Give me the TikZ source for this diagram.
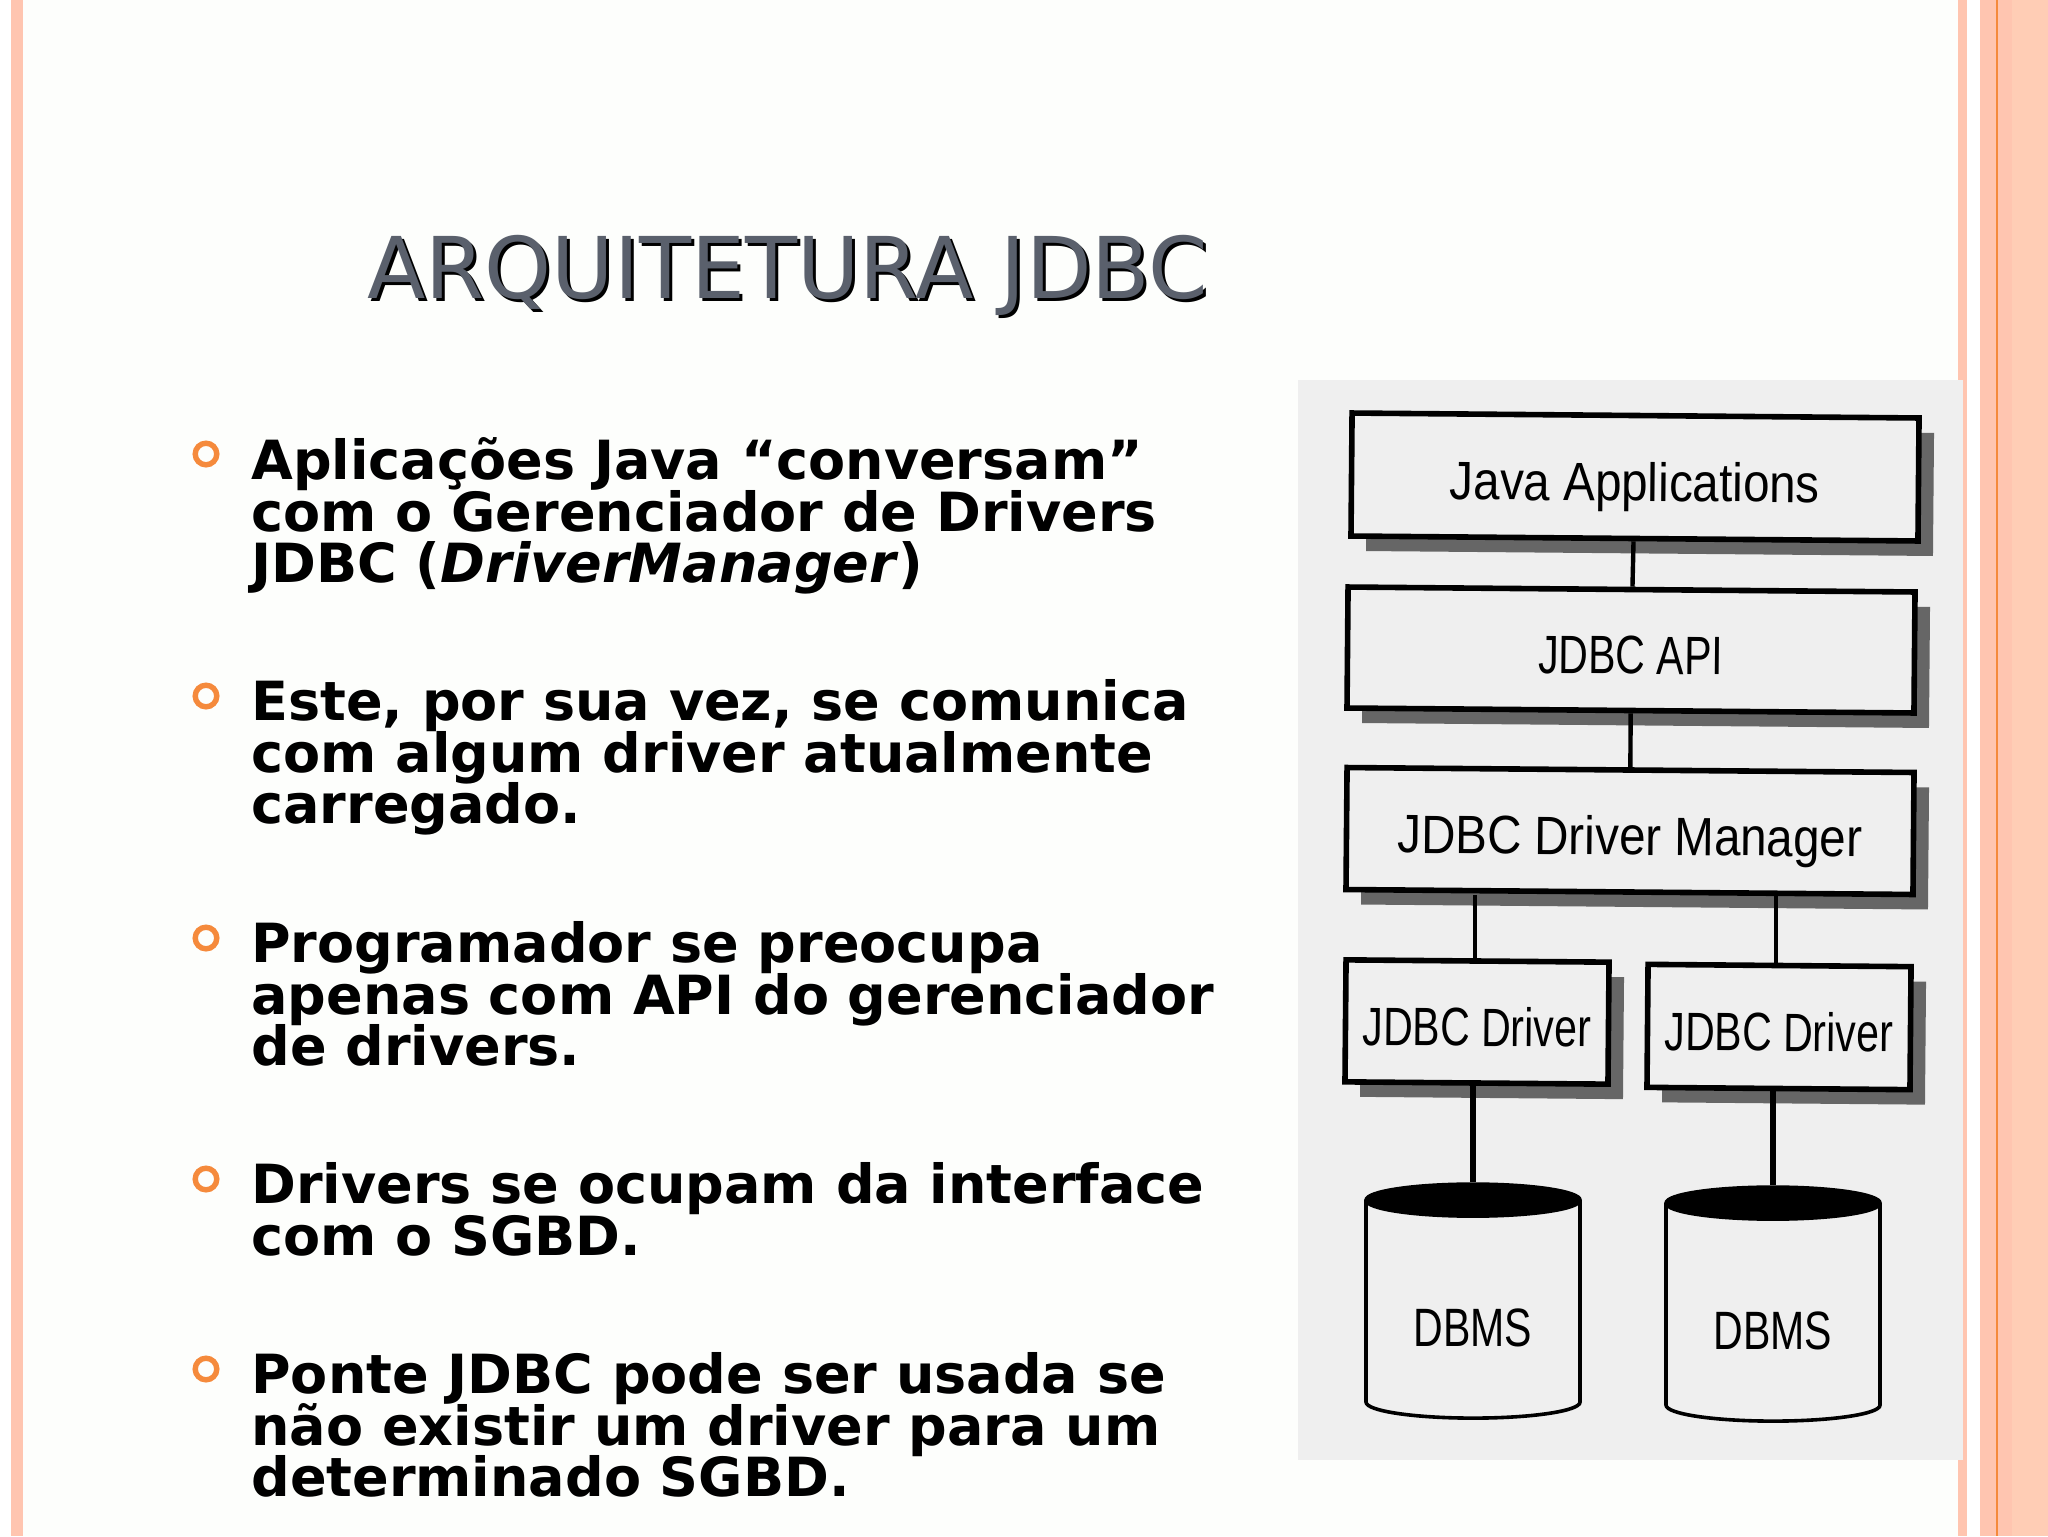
\documentclass[tikz,border=0pt]{standalone}
\usepackage{fontspec}
\usetikzlibrary{shapes.geometric,shadows}
\setmainfont{DejaVu Sans}
\newfontfamily\scanfont[FakeStretch=0.88]{Liberation Sans}
\newfontfamily\scanfontnarrow[FakeStretch=0.76]{Liberation Sans}
\definecolor{pagewhite}{HTML}{FDFEFC}
\definecolor{peach}{HTML}{FFC5B0}
\definecolor{peachlight}{HTML}{FFCDB5}
\definecolor{ringorange}{HTML}{F58A3C}
\definecolor{titlegray}{HTML}{5A606C}
\definecolor{scangray}{HTML}{EFEFEF}
\definecolor{shadowgray}{HTML}{666666}
\tikzset{
  ring/.style={circle, draw=ringorange, line width=2.7pt, minimum size=10.8pt, inner sep=0pt},
  bullettext/.style={anchor=north west, inner sep=0pt, align=left,
    execute at begin node={\lineskiplimit=-20pt},
    font=\fontsize{27}{25.85}\selectfont\bfseries},
  block/.style={draw=black, line width=2.8pt, fill=scangray, rotate=-0.5, inner sep=0pt,
    text height=24pt, text depth=0pt, font=\fontsize{27}{27}\selectfont\scanfont,
    drop shadow={shadow xshift=7.5pt, shadow yshift=-7.5pt, fill=shadowgray, opacity=1}},
  dbms/.style={cylinder, shape border rotate=90, draw=black, line width=1.8pt, aspect=0.27,
    cylinder uses custom fill, cylinder end fill=black, cylinder body fill=scangray,
    minimum width=107pt, minimum height=117pt, inner sep=0pt,
    text height=36pt, text depth=0pt, font=\fontsize{27}{27}\selectfont\scanfontnarrow},
  wire/.style={draw=black, line width=2.2pt}
}
\begin{document}
\begin{tikzpicture}[x=0.5pt, y=-0.5pt]
\useasboundingbox (0, 0) rectangle (2048, 1536);

\fill[white] (0, 0) rectangle (2048, 1536);
\fill[pagewhite] (23, 0) rectangle (1958, 1536);
\fill[peach] (11, 0) rectangle (23, 1536);
\fill[peach] (1958, 0) rectangle (1967, 1536);
\fill[peach] (1980, 0) rectangle (2012, 1536);
\fill[peachlight] (2012, 0) rectangle (2048, 1536);
\fill[ringorange] (1996, 0) rectangle (1998, 1536);
\fill[scangray] (1298, 380) rectangle (1963, 1460);

\node[anchor=base west, inner sep=0pt, text=black, font=\fontsize{42.6}{42.6}\selectfont] (titleback) at (370, 301) {ARQUITETURA JDBC};
\node[anchor=base west, inner sep=0pt, text=titlegray, font=\fontsize{42.6}{42.6}\selectfont] (title) at (367, 298) {ARQUITETURA JDBC};

\node[ring] (ringa) at (206, 454) {};
\node[ring] (ringb) at (206, 696) {};
\node[ring] (ringc) at (206, 938) {};
\node[ring] (ringd) at (206, 1179) {};
\node[ring] (ringe) at (206, 1369) {};

\node[bullettext] (texta) at (251, 437) {Aplicações Java “conversam”\\com o Gerenciador de Drivers\\JDBC (\textit{DriverManager})};
\node[bullettext] (textb) at (251, 679) {Este, por sua vez, se comunica\\com algum driver atualmente\\carregado.};
\node[bullettext] (textc) at (251, 921) {Programador se preocupa\\apenas com API do gerenciador\\de drivers.};
\node[bullettext] (textd) at (251, 1162) {Drivers se ocupam da interface\\com o SGBD.};
\node[bullettext] (texte) at (251, 1352) {Ponte JDBC pode ser usada se\\não existir um driver para um\\determinado SGBD.};

\node[block, minimum width=283.5pt, minimum height=61.5pt] (java) at (1635, 477) {Java Applications};
\node[block, minimum width=283.5pt, minimum height=60.5pt, font=\fontsize{27}{27}\selectfont\scanfontnarrow] (api) at (1631, 650) {JDBC API};
\node[block, minimum width=283.5pt, minimum height=61pt] (manager) at (1630, 831) {JDBC Driver Manager};
\node[block, minimum width=131.5pt, minimum height=61pt, font=\fontsize{27}{27}\selectfont\scanfontnarrow] (drivera) at (1477, 1022) {JDBC Driver};
\node[block, minimum width=131.5pt, minimum height=61.5pt, font=\fontsize{27}{27}\selectfont\scanfontnarrow] (driverb) at (1779, 1027) {JDBC Driver};
\node[dbms] (dbmsa) at (1473, 1310) {DBMS};
\node[dbms] (dbmsb) at (1773, 1313) {DBMS};

\draw[wire] (java) -- (api);
\draw[wire] (api) -- (manager);
\draw[wire] ([xshift=-1.2pt]drivera.north |- manager.south) -- ([xshift=-1.2pt]drivera.north);
\draw[wire] ([xshift=-1.8pt]driverb.north |- manager.south) -- ([xshift=-1.8pt]driverb.north);
\draw[wire, line width=3pt] (dbmsa.north |- drivera.south) -- (dbmsa.north);
\draw[wire, line width=3pt] (dbmsb.north |- driverb.south) -- (dbmsb.north);

\end{tikzpicture}
\end{document}
